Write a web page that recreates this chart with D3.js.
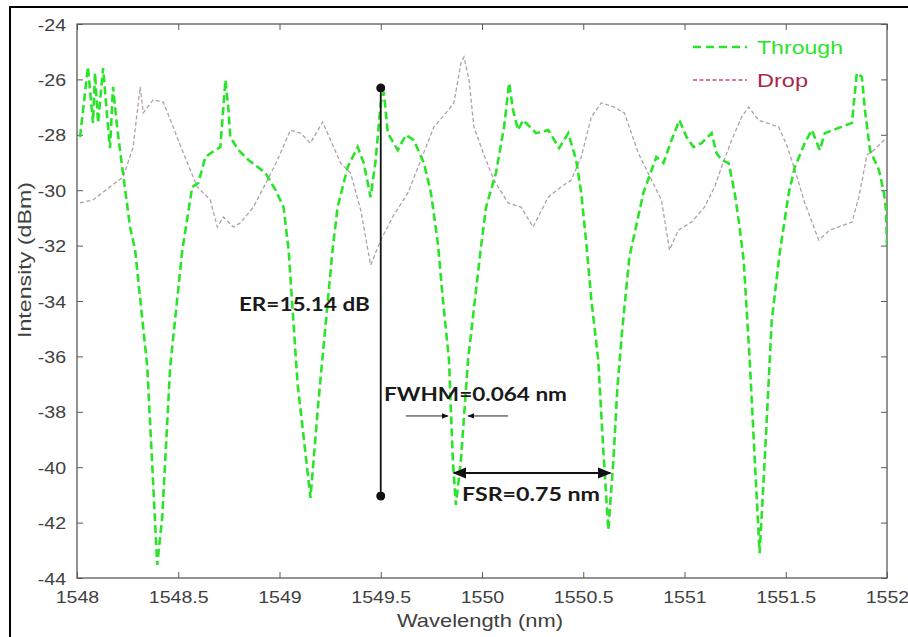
<!DOCTYPE html>
<html><head><meta charset="utf-8">
<script src="https://cdn.jsdelivr.net/npm/d3@7"></script>
<style>
html,body{margin:0;padding:0;background:#fff;}
svg{display:block;}
</style></head>
<body>
<svg id="chart" width="908" height="637"></svg>
<script>
// ---- data ----
const throughWl = [1548.015,1548.054,1548.079,1548.089,1548.104,1548.129,1548.149,1548.163,1548.178,1548.198,1548.223,1548.262,1548.287,1548.347,1548.376,1548.396,1548.421,1548.460,1548.520,1548.569,1548.599,1548.634,1548.683,1548.708,1548.718,1548.733,1548.748,1548.757,1548.797,1548.847,1548.931,1548.980,1549.020,1549.045,1549.089,1549.153,1549.193,1549.262,1549.287,1549.337,1549.386,1549.416,1549.450,1549.475,1549.500,1549.515,1549.535,1549.584,1549.624,1549.663,1549.713,1549.748,1549.782,1549.807,1549.837,1549.856,1549.871,1549.896,1549.931,1549.995,1550.020,1550.069,1550.109,1550.134,1550.153,1550.178,1550.203,1550.267,1550.327,1550.381,1550.426,1550.465,1550.490,1550.515,1550.540,1550.574,1550.599,1550.624,1550.649,1550.668,1550.693,1550.728,1550.797,1550.861,1550.896,1550.936,1550.975,1551.010,1551.045,1551.084,1551.134,1551.158,1551.183,1551.218,1551.248,1551.272,1551.292,1551.322,1551.347,1551.371,1551.396,1551.416,1551.431,1551.470,1551.515,1551.545,1551.594,1551.629,1551.668,1551.693,1551.762,1551.827,1551.851,1551.876,1551.891,1551.916,1551.960,1551.985,1551.995,1552.000];
const throughDb = [-28.08,-25.55,-27.57,-25.77,-27.57,-25.59,-27.36,-28.48,-26.27,-27.72,-29.16,-31.33,-32.16,-36.38,-40.57,-43.53,-41.80,-36.38,-32.16,-29.88,-29.74,-28.80,-28.55,-28.44,-27.47,-26.02,-27.10,-28.08,-28.55,-28.91,-29.38,-29.99,-30.61,-32.16,-36.96,-41.11,-37.57,-32.16,-30.61,-29.16,-28.44,-29.02,-30.25,-28.91,-26.85,-26.45,-27.94,-28.55,-28.01,-28.19,-29.02,-30.10,-31.91,-33.96,-36.13,-39.74,-41.36,-39.74,-36.13,-32.05,-30.61,-29.38,-27.72,-26.13,-27.10,-27.83,-27.47,-27.94,-27.83,-28.48,-27.94,-28.91,-30.10,-31.91,-33.96,-36.13,-39.38,-42.27,-39.74,-37.20,-35.00,-32.41,-30.10,-28.80,-29.02,-28.19,-27.47,-28.08,-28.44,-28.30,-27.94,-28.66,-28.91,-29.02,-30.10,-31.33,-32.52,-36.13,-39.74,-43.10,-39.74,-36.85,-34.69,-32.27,-30.10,-29.16,-28.30,-27.83,-28.55,-27.94,-27.75,-27.57,-25.77,-25.91,-27.10,-28.55,-29.27,-30.10,-30.70,-31.98];

const dropWl = [1548.015,1548.079,1548.163,1548.228,1548.277,1548.312,1548.327,1548.376,1548.426,1548.475,1548.525,1548.594,1548.658,1548.693,1548.723,1548.772,1548.807,1548.871,1548.941,1548.990,1549.054,1549.104,1549.153,1549.213,1549.252,1549.302,1549.351,1549.401,1549.450,1549.500,1549.564,1549.634,1549.698,1549.762,1549.822,1549.861,1549.896,1549.911,1549.936,1549.960,1550.010,1550.059,1550.129,1550.193,1550.252,1550.327,1550.391,1550.441,1550.490,1550.540,1550.589,1550.653,1550.703,1550.772,1550.837,1550.886,1550.926,1550.970,1551.035,1551.099,1551.149,1551.183,1551.233,1551.282,1551.317,1551.366,1551.465,1551.505,1551.545,1551.594,1551.663,1551.718,1551.827,1551.861,1551.901,1551.936,1552.000];
const dropDb = [-30.46,-30.35,-29.88,-29.52,-28.44,-26.27,-27.21,-26.74,-26.82,-27.72,-28.66,-29.88,-30.35,-31.33,-30.97,-31.33,-31.18,-30.61,-29.63,-28.91,-27.83,-27.94,-28.30,-27.54,-28.19,-29.02,-29.38,-30.71,-32.70,-31.80,-30.90,-30.10,-28.91,-27.72,-27.21,-26.85,-25.41,-25.19,-26.02,-27.72,-28.73,-29.63,-30.46,-30.61,-31.33,-30.25,-29.88,-29.63,-28.80,-27.36,-26.85,-27.00,-27.21,-28.66,-29.63,-30.35,-32.16,-31.44,-31.15,-30.61,-29.88,-29.16,-28.19,-27.36,-27.00,-27.47,-27.72,-28.37,-29.27,-30.46,-31.80,-31.44,-31.15,-30.25,-28.73,-28.55,-28.08];

const xTicks = [1548,1548.5,1549,1549.5,1550,1550.5,1551,1551.5,1552];
const xTickLabels = ["1548","1548.5","1549","1549.5","1550","1550.5","1551","1551.5","1552"];
const yTicks = [-24,-26,-28,-30,-32,-34,-36,-38,-40,-42,-44];
const yTickLabels = ["-24","-26","-28","-30","-32","-34","-36","-38","-40","-42","-44"];

const seriesNames = ["Through","Drop"];
const xLabel = "Wavelength (nm)";
const yLabel = "Intensity (dBm)";

// annotations (data coordinates)
const erLine = {x:1549.5, y1:-26.31, y2:-41.04};
const erText = {text:"ER=15.14 dB", x:1549.123, y:-34.36};
const fwhmArrows = [{x1:1549.624, x2:1549.832, y:-38.15},{x1:1550.129, x2:1549.931, y:-38.15}];
const fwhmText = {text:"FWHM=0.064 nm", x:1549.968, y:-37.61};
const fsrArrow = {x1:1549.861, x2:1550.634, y:-40.21};
const fsrText = {text:"FSR=0.75 nm", x:1550.242, y:-41.22};

// ---- drawing ----
const svg = d3.select("#chart");
const W = 908, H = 637;
const m = {left:77, right:887, top:24, bottom:578};

const x = d3.scaleLinear().domain([1548,1552]).range([m.left, m.right]);
const y = d3.scaleLinear().domain([-44,-24]).range([m.bottom, m.top]);

// outer figure frame (top & left visible)
svg.append("line").attr("x1",10).attr("x2",W).attr("y1",7).attr("y2",7).attr("stroke","#000").attr("stroke-width",2);
svg.append("line").attr("x1",10).attr("x2",10).attr("y1",6).attr("y2",H).attr("stroke","#000").attr("stroke-width",2);

const defs = svg.append("defs");
defs.append("clipPath").attr("id","clip").append("rect")
  .attr("x",m.left).attr("y",m.top).attr("width",m.right-m.left).attr("height",m.bottom-m.top);
defs.append("marker").attr("id","ah").attr("viewBox","0 0 10 10").attr("refX",9).attr("refY",5)
  .attr("markerWidth",7).attr("markerHeight",7).attr("orient","auto-start-reverse")
  .append("path").attr("d","M0,1 L10,5 L0,9 z").attr("fill","#111");
defs.append("marker").attr("id","dot").attr("viewBox","0 0 10 10").attr("refX",5).attr("refY",5)
  .attr("markerWidth",5).attr("markerHeight",5)
  .append("circle").attr("cx",5).attr("cy",5).attr("r",5).attr("fill","#111");

const axisColor = "#5a5a5a";
const tickFont = "'Liberation Sans', Arial, sans-serif";

// axes with inward ticks
const gx = svg.append("g").attr("transform",`translate(0,${m.bottom})`)
  .call(d3.axisBottom(x).tickValues(xTicks).tickFormat((d,i)=>xTickLabels[i]).tickSizeInner(-6).tickSizeOuter(0).tickPadding(15));
const gxt = svg.append("g").attr("transform",`translate(0,${m.top})`)
  .call(d3.axisTop(x).tickValues(xTicks).tickFormat("").tickSizeInner(-6).tickSizeOuter(0));
const gy = svg.append("g").attr("transform",`translate(${m.left},0)`)
  .call(d3.axisLeft(y).tickValues(yTicks).tickFormat((d,i)=>yTickLabels[i]).tickSizeInner(-6).tickSizeOuter(0).tickPadding(11));
const gyr = svg.append("g").attr("transform",`translate(${m.right},0)`)
  .call(d3.axisRight(y).tickValues(yTicks).tickFormat("").tickSizeInner(-6).tickSizeOuter(0));
[gx,gxt,gy,gyr].forEach(g=>{
  g.select(".domain").remove();
  g.selectAll(".tick line").attr("stroke",axisColor).attr("stroke-width",1);
  g.selectAll("text").attr("font-family",tickFont).attr("font-size",17).attr("fill","#404040");
});
gy.selectAll(".tick text").attr("dy","0.36em");
gx.selectAll(".tick text").attr("dy","0.6em");
// widen tick labels slightly to match the stretched look
[gx,gy].forEach(g=>g.selectAll(".tick text").each(function(){
  const w = this.getComputedTextLength();
  d3.select(this).attr("textLength", w*1.15).attr("lengthAdjust","spacingAndGlyphs");
}));
// box
svg.append("rect").attr("x",m.left).attr("y",m.top).attr("width",m.right-m.left).attr("height",m.bottom-m.top)
  .attr("fill","none").attr("stroke",axisColor).attr("stroke-width",1.3);

// axis labels
svg.append("text").attr("x",(m.left+m.right)/2-2).attr("y",627).attr("text-anchor","middle")
  .attr("font-family",tickFont).attr("font-size",19).attr("fill","#404040")
  .attr("textLength",166).attr("lengthAdjust","spacingAndGlyphs").text(xLabel);
svg.append("text").attr("transform","translate(31,260) rotate(-90)").attr("text-anchor","middle")
  .attr("font-family",tickFont).attr("font-size",19).attr("fill","#404040")
  .attr("textLength",156).attr("lengthAdjust","spacingAndGlyphs").text(yLabel);

// data lines
const line = d3.line().x(d=>x(d[0])).y(d=>y(d[1]));
const plot = svg.append("g").attr("clip-path","url(#clip)");
const dropData = dropWl.map((w,i)=>[w,dropDb[i]]);
const thrData = throughWl.map((w,i)=>[w,throughDb[i]]);
plot.append("path").datum(dropData).attr("d",line).attr("fill","none")
  .attr("stroke","#b39eab").attr("stroke-width",1.3).attr("stroke-dasharray","4,2.5");
plot.append("path").datum(thrData).attr("d",line).attr("fill","none")
  .attr("stroke","#2ae42a").attr("stroke-width",2.6).attr("stroke-dasharray","8,4");

// annotations
const annFont = "Lato, 'Open Sans', sans-serif";
svg.append("line").attr("x1",x(erLine.x)).attr("x2",x(erLine.x)).attr("y1",y(erLine.y1)).attr("y2",y(erLine.y2))
  .attr("stroke","#111").attr("stroke-width",1.8).attr("marker-start","url(#dot)").attr("marker-end","url(#dot)");
fwhmArrows.forEach(a=>{
  svg.append("line").attr("x1",x(a.x1)).attr("x2",x(a.x2)).attr("y1",y(a.y)).attr("y2",y(a.y))
    .attr("stroke","#222").attr("stroke-width",1).attr("marker-end","url(#ah)");
});
svg.append("line").attr("x1",x(fsrArrow.x1)).attr("x2",x(fsrArrow.x2)).attr("y1",y(fsrArrow.y)).attr("y2",y(fsrArrow.y))
  .attr("stroke","#111").attr("stroke-width",2).attr("marker-start","url(#ah)").attr("marker-end","url(#ah)");

function annText(t, len){
  svg.append("text").attr("x",x(t.x)).attr("y",y(t.y)).attr("text-anchor","middle")
    .attr("font-family",annFont).attr("font-weight","bold").attr("font-size",19).attr("fill","#1a1a1a")
    .attr("textLength",len).attr("lengthAdjust","spacingAndGlyphs").text(t.text);
}
annText(erText,131);
annText(fwhmText,183);
annText(fsrText,138);

// legend
const leg = svg.append("g");
const legItems = [
  {name:seriesNames[0], color:"#2ae42a", text:"#2ae42a", w:2.6, dash:"8,5", y:47, len:86},
  {name:seriesNames[1], color:"#c8506e", text:"#a8284a", w:1.5, dash:"4,2.5", y:80, len:51}
];
legItems.forEach(it=>{
  leg.append("line").attr("x1",693).attr("x2",747).attr("y1",it.y).attr("y2",it.y)
    .attr("stroke",it.color).attr("stroke-width",it.w).attr("stroke-dasharray",it.dash);
  leg.append("text").attr("x",757).attr("y",it.y+7).attr("font-family",tickFont).attr("font-size",19)
    .attr("fill",it.text).attr("textLength",it.len).attr("lengthAdjust","spacingAndGlyphs").text(it.name);
});
</script>
</body></html>
